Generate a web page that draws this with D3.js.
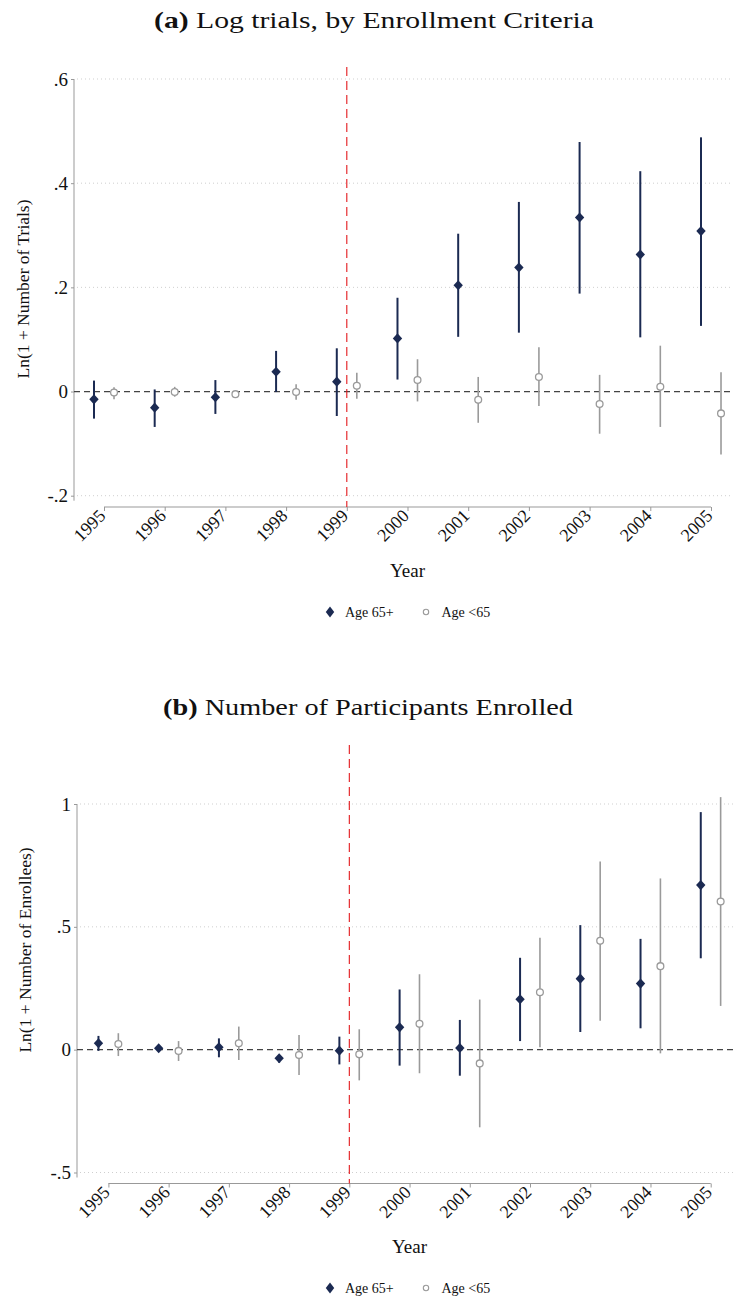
<!DOCTYPE html>
<html>
<head>
<meta charset="utf-8">
<script src="https://cdn.jsdelivr.net/npm/d3@7"></script>
<style>
  body { margin: 0; background: #fff; }
  svg { display: block; }
  text { font-family: "Liberation Serif", "Times New Roman", serif; }
</style>
</head>
<body>
<svg id="chart" width="733" height="1298"></svg>
<script>
// years on the x axis
const years = [1995, 1996, 1997, 1998, 1999, 2000, 2001, 2002, 2003, 2004, 2005];

// panel (a): log trials
const trialsOld   = [-0.015, -0.031, -0.011, 0.038, 0.019, 0.102, 0.204, 0.238, 0.334, 0.263, 0.308];
const trialsOldLo = [-0.052, -0.068, -0.043, -0.001, -0.047, 0.023, 0.105, 0.113, 0.188, 0.104, 0.126];
const trialsOldHi = [0.021, 0.004, 0.022, 0.078, 0.083, 0.180, 0.303, 0.364, 0.479, 0.423, 0.488];
const trialsYoung   = [-0.002, -0.001, -0.005, -0.001, 0.011, 0.022, -0.016, 0.028, -0.024, 0.009, -0.042];
const trialsYoungLo = [-0.015, -0.010, -0.011, -0.016, -0.014, -0.019, -0.060, -0.028, -0.081, -0.068, -0.121];
const trialsYoungHi = [0.008, 0.009, 0.001, 0.014, 0.036, 0.062, 0.028, 0.085, 0.032, 0.088, 0.037];
const trialsTicks = [-0.2, 0, 0.2, 0.4, 0.6];
const trialsTickLabels = ["-.2", "0", ".2", ".4", ".6"];

// panel (b): participants enrolled
const enrollOld   = [0.026, 0.006, 0.010, -0.035, -0.004, 0.091, 0.007, 0.205, 0.289, 0.269, 0.670];
const enrollOldLo = [-0.005, 0.000, -0.031, -0.053, -0.060, -0.065, -0.106, 0.035, 0.072, 0.087, 0.372];
const enrollOldHi = [0.056, 0.012, 0.046, -0.026, 0.053, 0.245, 0.121, 0.374, 0.507, 0.451, 0.967];
const enrollYoung   = [0.023, -0.005, 0.026, -0.022, -0.019, 0.105, -0.056, 0.234, 0.443, 0.340, 0.603];
const enrollYoungLo = [-0.026, -0.046, -0.042, -0.103, -0.125, -0.096, -0.316, 0.010, 0.118, -0.015, 0.178];
const enrollYoungHi = [0.067, 0.035, 0.094, 0.060, 0.083, 0.307, 0.204, 0.456, 0.766, 0.697, 1.028];
const enrollTicks = [-0.5, 0, 0.5, 1];
const enrollTickLabels = ["-.5", "0", ".5", "1"];

const legendLabels = ["Age 65+", "Age <65"];
const policyYear = 1999;

const navy = "#1b2a52";
const grey = "#9a9a9a";
const serif = "Liberation Serif, Times New Roman, serif";

const svg = d3.select("#chart");

const panels = [
  {
    title: "Log trials, by Enrollment Criteria", label: "(a)", titleX: 374, titleW: 440,
    ylab: "Ln(1 + Number of Trials)", ylabY: 289, ylabX: 23,
    ticks: trialsTicks, tickLabels: trialsTickLabels, domain: [-0.2, 0.6], yRange: [495.7, 79],
    titleY: 28, axisX: 74, xRange: [104, 711], axisY: 507, redTop: 67,
    old: trialsOld, oldLo: trialsOldLo, oldHi: trialsOldHi,
    young: trialsYoung, youngLo: trialsYoungLo, youngHi: trialsYoungHi,
    yearY: 577, legendY: 612
  },
  {
    title: "Number of Participants Enrolled", label: "(b)", titleX: 368, titleW: 410,
    ylab: "Ln(1 + Number of Enrollees)", ylabY: 950, ylabX: 25,
    ticks: enrollTicks, tickLabels: enrollTickLabels, domain: [-0.5, 1], yRange: [1172.5, 804],
    titleY: 715, axisX: 77, xRange: [108.4, 710.7], axisY: 1183.5, redTop: 745,
    old: enrollOld, oldLo: enrollOldLo, oldHi: enrollOldHi,
    young: enrollYoung, youngLo: enrollYoungLo, youngHi: enrollYoungHi,
    yearY: 1253, legendY: 1288
  }
];

panels.forEach((p) => {
  const g = svg.append("g");
  const x = d3.scaleLinear().domain([1995, 2005]).range(p.xRange);
  const y = d3.scaleLinear().domain(p.domain).range(p.yRange);
  const shift = 0.165;

  // title (computer-modern style is wider than Times, so stretch glyphs)
  const t = g.append("text").attr("x", p.titleX).attr("y", p.titleY)
    .attr("text-anchor", "middle").attr("font-size", 23).attr("fill", "#111")
    .attr("textLength", p.titleW).attr("lengthAdjust", "spacingAndGlyphs");
  t.append("tspan").attr("font-weight", "bold").text(p.label + " ");
  t.append("tspan").text(p.title);

  // dotted grid
  g.selectAll(".grid").data(p.ticks.filter((d) => d !== 0)).join("line")
    .attr("x1", p.axisX + 3).attr("x2", 733)
    .attr("y1", (d) => y(d)).attr("y2", (d) => y(d))
    .attr("stroke", "#cfcfcf").attr("stroke-width", 1).attr("stroke-dasharray", "1,3");

  // y axis
  const yAxis = d3.axisLeft(y).tickValues(p.ticks)
    .tickFormat((d, i) => p.tickLabels[i]).tickSize(3).tickPadding(3);
  const ya = g.append("g").attr("transform", `translate(${p.axisX},0)`).call(yAxis)
    .attr("font-family", serif);
  ya.select(".domain").remove();
  ya.append("line").attr("x1", 0).attr("x2", 0)
    .attr("y1", y(p.domain[1])).attr("y2", y(p.domain[0]) + 5).attr("stroke", "#999");
  ya.selectAll(".tick line").attr("stroke", "#999");
  ya.selectAll(".tick text").attr("font-size", 19).attr("fill", "#111");

  // x axis, labels at 45 degrees ending at the tick
  const xAxis = d3.axisBottom(x).tickValues(years).tickFormat(d3.format("d")).tickSize(4);
  const xa = g.append("g").attr("transform", `translate(0,${p.axisY})`).call(xAxis)
    .attr("font-family", serif);
  xa.select(".domain").attr("stroke", "#999").attr("d", `M${p.xRange[0]},0H${p.xRange[1]}`);
  xa.selectAll(".tick line").attr("stroke", "#999");
  xa.selectAll(".tick text").attr("font-size", 18).attr("fill", "#111")
    .attr("x", 0).attr("y", 0).attr("dy", 0)
    .attr("text-anchor", "end")
    .attr("transform", "translate(2,10) rotate(-45)");

  // zero reference line
  g.append("line").attr("x1", p.axisX).attr("x2", 733)
    .attr("y1", y(0)).attr("y2", y(0))
    .attr("stroke", "#444").attr("stroke-width", 1.3).attr("stroke-dasharray", "6,4");

  // policy line
  g.append("line").attr("x1", x(policyYear)).attr("x2", x(policyYear))
    .attr("y1", p.redTop).attr("y2", p.axisY)
    .attr("stroke", "#e3191c").attr("stroke-width", 1.1).attr("stroke-dasharray", "9,5");

  // axis titles
  g.append("text").attr("transform", `translate(${p.ylabX},${p.ylabY}) rotate(-90)`)
    .attr("text-anchor", "middle").attr("dy", "0.35em")
    .attr("font-size", 17.5).attr("fill", "#111").text(p.ylab);
  g.append("text").attr("x", (p.xRange[0] + p.xRange[1]) / 2).attr("y", p.yearY)
    .attr("text-anchor", "middle").attr("font-size", 19).attr("fill", "#111").text("Year");

  // young: grey CIs and hollow circles
  g.selectAll(".ciy").data(years).join("line")
    .attr("x1", (d) => x(d + shift)).attr("x2", (d) => x(d + shift))
    .attr("y1", (d, i) => y(p.youngLo[i])).attr("y2", (d, i) => y(p.youngHi[i]))
    .attr("stroke", grey).attr("stroke-width", 1.6);
  g.selectAll(".pty").data(years).join("circle")
    .attr("cx", (d) => x(d + shift)).attr("cy", (d, i) => y(p.young[i])).attr("r", 3.4)
    .attr("fill", "#fff").attr("stroke", grey).attr("stroke-width", 1.3);

  // old: navy CIs and diamonds
  g.selectAll(".cio").data(years).join("line")
    .attr("x1", (d) => x(d - shift)).attr("x2", (d) => x(d - shift))
    .attr("y1", (d, i) => y(p.oldLo[i])).attr("y2", (d, i) => y(p.oldHi[i]))
    .attr("stroke", navy).attr("stroke-width", 2);
  const diamond = d3.symbol().type(d3.symbolSquare).size(44);
  g.selectAll(".pto").data(years).join("path")
    .attr("d", diamond)
    .attr("transform", (d, i) => `translate(${x(d - shift)},${y(p.old[i])}) scale(1,1.08) rotate(45)`)
    .attr("fill", navy);

  // legend
  const lg = g.append("g").attr("transform", `translate(0,${p.legendY})`);
  lg.append("path").attr("d", d3.symbol().type(d3.symbolSquare).size(44))
    .attr("transform", "translate(330,0) scale(0.9,1.15) rotate(45)").attr("fill", navy);
  lg.append("text").attr("x", 345).attr("y", 0).attr("dy", "0.35em")
    .attr("font-size", 14).attr("fill", "#111").text(legendLabels[0]);
  lg.append("circle").attr("cx", 426).attr("cy", 0).attr("r", 2.7)
    .attr("fill", "#fff").attr("stroke", grey).attr("stroke-width", 1.1);
  lg.append("text").attr("x", 441.5).attr("y", 0).attr("dy", "0.35em")
    .attr("font-size", 14).attr("fill", "#111").text(legendLabels[1]);
});
</script>
</body>
</html>
